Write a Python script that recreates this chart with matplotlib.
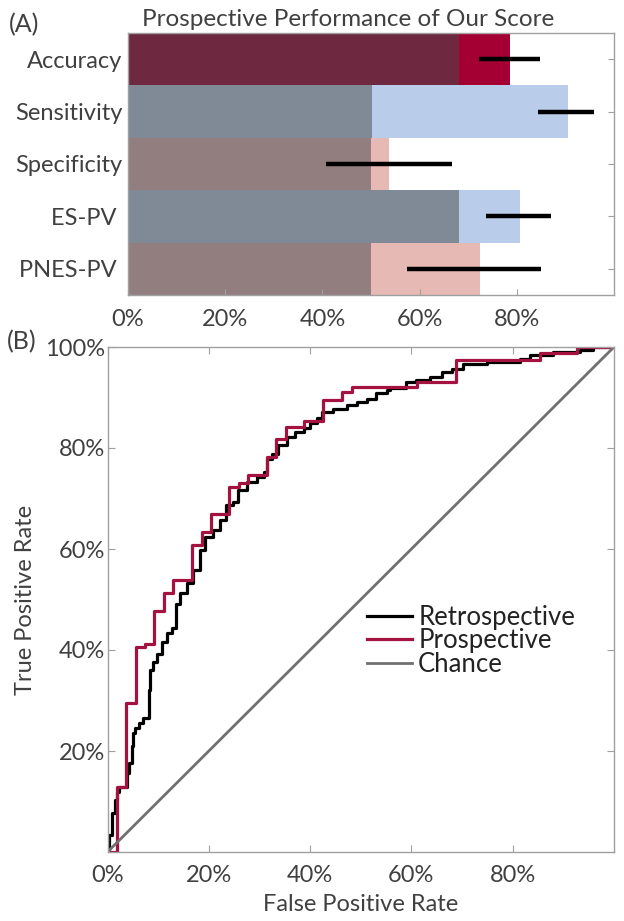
import matplotlib
matplotlib.use('Agg')
import matplotlib.pyplot as plt

plt.rcParams['font.family'] = ['Lato', 'DejaVu Sans']

TEXT = '#404040'
SPINE = '#a0a0a0'

# (A) prospective performance, percent
metrics = ['Accuracy', 'Sensitivity', 'Specificity', 'ES-PV ', 'PNES-PV ']
score = [78.7, 90.5, 53.7, 80.7, 72.5]
chance = [68.2, 50.2, 50.0, 68.2, 50.0]
ci_low = [72.3, 84.4, 40.7, 73.7, 57.5]
ci_high = [84.8, 95.8, 66.7, 87.0, 85.0]
score_col = ['#a50034', '#b9cdeb', '#e6b9b4', '#b9cdeb', '#e6b9b4']
chance_col = ['#6e2840', '#7f8a96', '#927e7e', '#7f8a96', '#927e7e']

# (B) ROC curves, step corners (FPR, TPR after the jump), percent
retro_fpr = [0, 0.2, 0.8, 1.5, 1.9, 2.3, 3.8, 4.3, 4.8, 5.1, 5.4, 6.3, 7.1, 8.1,
             8.4, 9.0, 9.7, 10.7, 11.7, 12.7, 13.5, 13.6, 14.3, 15.6, 16.9, 18.3,
             19.2, 20.9, 22.2, 23.4, 24.8, 25.8, 27.5, 29.5, 30.8, 31.4, 32.4,
             33.7, 35.4, 37.0, 38.7, 40.0, 41.3, 42.3, 44.6, 47.2, 49.2, 51.2,
             53.1, 55.1, 55.8, 59.0, 61.0, 63.7, 66.0, 68.0, 70.2, 74.9, 81.4,
             83.4, 88.0, 93.3, 95.9, 100]
retro_tpr = [0, 3.4, 7.7, 10.3, 11.9, 12.9, 15.6, 17.6, 20.9, 23.5, 24.5, 25.5,
             26.5, 32.1, 36.0, 37.7, 39.3, 41.6, 43.3, 44.3, 46.3, 49.2, 51.2,
             53.2, 55.8, 59.8, 62.4, 63.8, 65.7, 68.7, 69.4, 71.7, 73.3, 74.3,
             75.3, 77.9, 78.9, 80.6, 82.2, 83.2, 83.9, 84.9, 85.9, 87.2, 87.8,
             88.5, 89.2, 89.8, 90.8, 91.5, 91.8, 93.1, 93.5, 94.1, 95.1, 95.6,
             96.7, 97.1, 97.7, 98.4, 99.0, 99.5, 100, 100]
pro_fpr = [0, 1.9, 3.6, 5.6, 7.4, 9.2, 11.2, 13.0, 16.7, 18.6, 20.4, 24.0, 25.9,
           27.7, 31.4, 33.3, 35.2, 38.8, 42.5, 46.2, 48.3, 61.2, 68.8, 85.4,
           92.6, 100]
pro_tpr = [0, 12.9, 29.5, 40.6, 41.2, 47.8, 51.2, 53.9, 60.8, 63.3, 66.9, 72.2,
           73.0, 74.7, 78.2, 81.7, 84.2, 85.3, 89.5, 91.1, 92.1, 93.1, 97.4,
           98.9, 100, 100]

fig = plt.figure(figsize=(6.24, 9.21), dpi=100)
W, H = 624, 921

# ---- panel A
ax1 = fig.add_axes([128 / W, 1 - 295 / H, 486 / W, 262 / H])
ypos = list(range(len(metrics)))
ax1.barh(ypos, score, height=1, color=score_col, linewidth=0)
ax1.barh(ypos, chance, height=1, color=chance_col, linewidth=0)
ax1.hlines(ypos, ci_low, ci_high, colors='k', linewidth=3.2)
ax1.set_xlim(0, 100)
ax1.set_ylim(len(metrics) - 0.5, -0.5)
ax1.set_yticks(ypos)
ax1.set_yticklabels(metrics)
ax1.set_xticks([0, 20, 40, 60, 80])
ax1.set_xticklabels(['0%', '20%', '40%', '60%', '80%'])
ax1.tick_params(axis='both', direction='in', length=4, color=SPINE,
                labelcolor=TEXT, labelsize=17)
ax1.tick_params(axis='y', left=False, right=True, pad=4)
ax1.tick_params(axis='x', pad=10)

# ---- panel B
ax2 = fig.add_axes([107.5 / W, 1 - 852 / H, 506.5 / W, 505 / H])
ax2.plot(retro_fpr, retro_tpr, drawstyle='steps-post', color='k', lw=2.3,
         label='Retrospective')
ax2.plot(pro_fpr, pro_tpr, drawstyle='steps-post', color='#a4123f', lw=2.3,
         label='Prospective')
ax2.plot([0, 100], [0, 100], color='#707070', lw=2.0, label='Chance')
ax2.set_xlim(0, 100)
ax2.set_ylim(0, 100)
ax2.set_xticks([0, 20, 40, 60, 80])
ax2.set_xticklabels(['0%', '20%', '40%', '60%', '80%'])
ax2.set_yticks([20, 40, 60, 80, 100])
ax2.set_yticklabels(['20%', '40%', '60%', '80%', '100%'])
ax2.tick_params(axis='both', direction='in', length=5, color=SPINE,
                labelcolor=TEXT, labelsize=17, top=True, right=True)
ax2.tick_params(axis='y', pad=1.5)
ax2.tick_params(axis='x', pad=9)
ax2.set_xlabel('False Positive Rate', fontsize=17, color=TEXT, labelpad=6)
ax2.set_ylabel('True Positive Rate', fontsize=17, color=TEXT, labelpad=7)
ax2.legend(loc='upper left', bbox_to_anchor=(0.512, 0.49), frameon=False,
           fontsize=18.5, handlelength=1.75, handletextpad=0.25,
           labelspacing=-0.05, borderpad=0, borderaxespad=0, labelcolor='#222222')

for ax in (ax1, ax2):
    for s in ax.spines.values():
        s.set_color(SPINE)
        s.set_linewidth(1.0)

fig.text(348 / W, 1 - 20 / H, 'Prospective Performance of Our Score',
         ha='center', va='center', fontsize=17.5, color=TEXT)
fig.text(24 / W, 1 - 25 / H, '(A)', ha='center', va='center', fontsize=18,
         color=TEXT)
fig.text(22 / W, 1 - 342 / H, '(B)', ha='center', va='center', fontsize=18,
         color=TEXT)

fig.savefig('out.png', dpi=100)
